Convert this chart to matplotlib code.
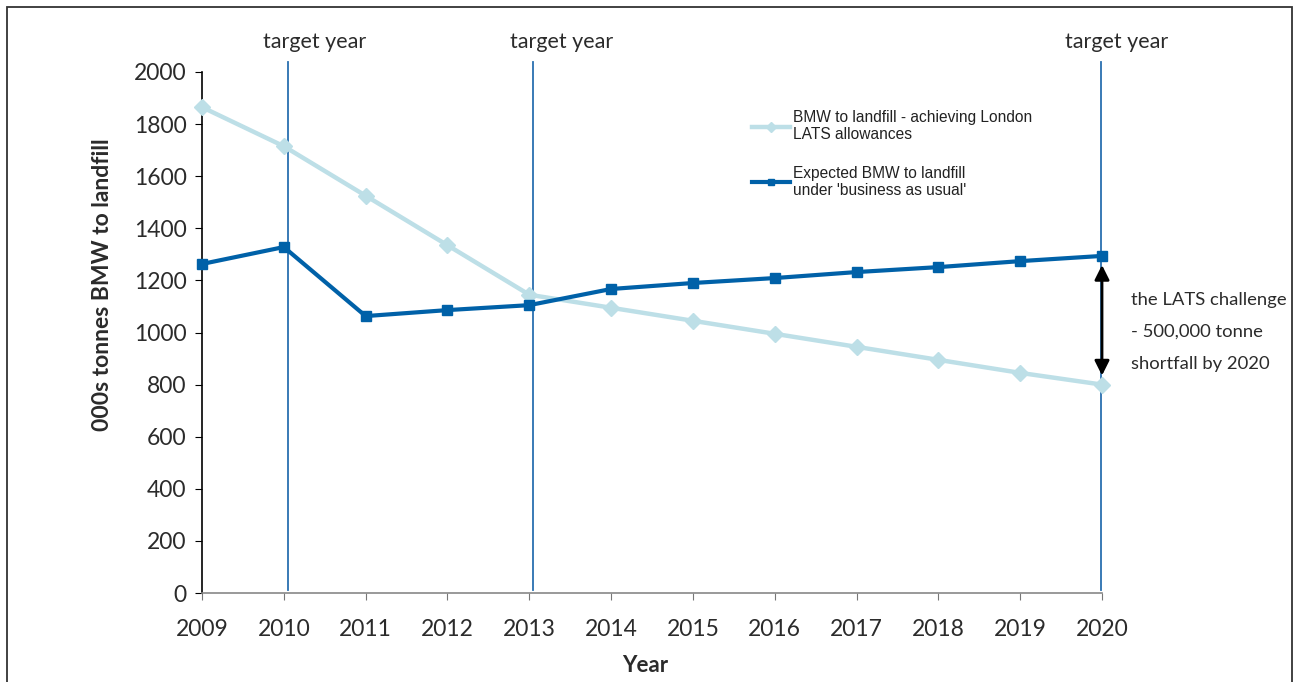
import matplotlib
matplotlib.use("Agg")
import matplotlib.pyplot as plt
from matplotlib.patches import Rectangle

years = [2009, 2010, 2011, 2012, 2013, 2014, 2015, 2016, 2017, 2018, 2019, 2020]
lats_target = [1865, 1715, 1525, 1335, 1145, 1095, 1045, 995, 945, 895, 845, 800]
business_as_usual = [1263, 1328, 1063, 1086, 1105, 1167, 1190, 1209, 1232, 1251, 1274, 1294]
target_years = [2010.05, 2013.05, 2019.99]
yticks = [0, 200, 400, 600, 800, 1000, 1200, 1400, 1600, 1800, 2000]

label_light = "BMW to landfill - achieving London\nLATS allowances"
label_dark = "Expected BMW to landfill\nunder 'business as usual'"
note = "the LATS challenge\n- 500,000 tonne\nshortfall by 2020"

plt.rcParams['font.family'] = ['Lato', 'DejaVu Sans']

W, H = 1293, 682
fig = plt.figure(figsize=(W / 100, H / 100), dpi=100)
ax = fig.add_axes([202 / W, (H - 593) / H, (1102 - 202) / W, (593 - 72) / H])

light = '#bddfe7'
dark = '#0061a8'
vline = '#2a70b0'
txt = '#2b2b2b'

label_offsets = [0.33, 0.35, 0.19]
for ty, off in zip(target_years, label_offsets):
    ax.plot([ty, ty], [12, 2038], color=vline, lw=1.3, clip_on=False, zorder=1)
    ax.text(ty + off, 2075, "target year", ha='center', va='bottom',
            fontsize=15.5, color=txt)

ax.plot(years, lats_target, color=light, lw=3.2, marker='D', ms=8,
        clip_on=False, zorder=3, label=label_light)
ax.plot(years, business_as_usual, color=dark, lw=3.0, marker='s', ms=7.5,
        clip_on=False, zorder=4, label=label_dark)

ax.annotate("", xy=(2020, business_as_usual[-1] - 35), xytext=(2020, lats_target[-1] + 35),
            arrowprops=dict(arrowstyle='<|-|>', color='black', lw=2,
                            mutation_scale=22, shrinkA=0, shrinkB=0), zorder=5)
ax.text(2020.35, 1002, note, ha='left', va='center', fontsize=13.3,
        color=txt, linespacing=2.2)

ax.set_xlim(2009, 2020)
ax.set_ylim(0, 2000)
ax.set_xticks(years)
ax.set_yticks(yticks)
ax.tick_params(axis='both', labelsize=16.5, colors=txt, direction='out', length=5)
ax.tick_params(axis='x', pad=14, color='#777777')
ax.tick_params(axis='y', pad=6, color='black')
for s in ['top', 'right']:
    ax.spines[s].set_visible(False)
ax.spines['left'].set_color('black')
ax.spines['bottom'].set_color('#888888')
ax.spines['left'].set_linewidth(1.2)
ax.spines['bottom'].set_linewidth(1.2)

ax.set_xlabel("Year", fontsize=16, fontweight='bold', color=txt, va='center')
ax.xaxis.set_label_coords((645 - 202) / 900, -(666 - 593) / 521)
ax.set_ylabel("000s tonnes BMW to landfill", fontsize=16.5, fontweight='bold',
              color=txt, va='center')
ax.yaxis.set_label_coords(-(202 - 102) / 900, (593 - 285) / 521)

leg = ax.legend(loc='upper left', bbox_to_anchor=(738 / W, (H - 96) / H),
                bbox_transform=fig.transFigure, frameon=False,
                prop={'family': 'Liberation Sans', 'size': 11.2},
                handlelength=2.45, handletextpad=0.2, labelspacing=1.5,
                markerscale=0.6)
for t in leg.get_texts():
    t.set_color('#222222')

fig.patches.append(Rectangle((7 / W, -0.02), (1292 - 7) / W, 1.02 - 7 / H,
                             transform=fig.transFigure, fill=False,
                             edgecolor='#333333', lw=1.3))

fig.savefig("out.png", dpi=100)
